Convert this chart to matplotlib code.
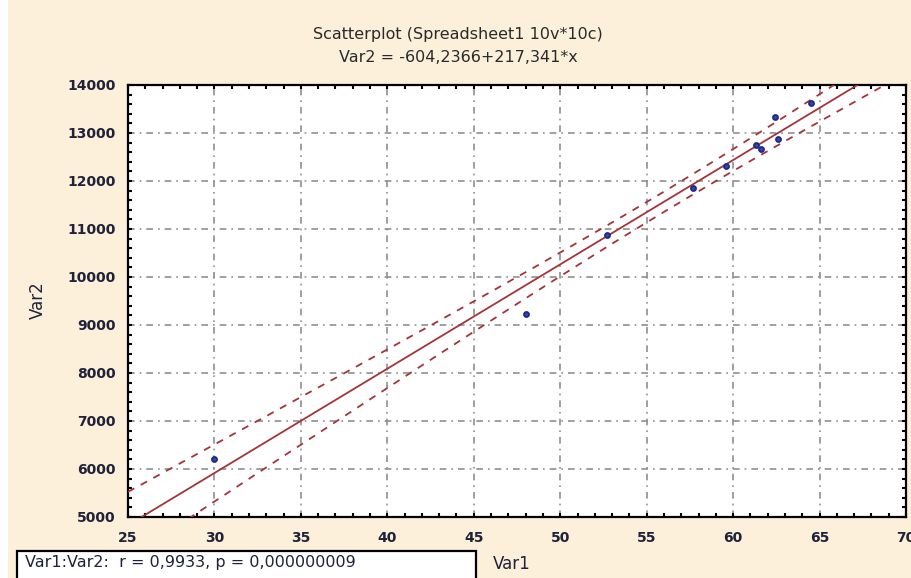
import matplotlib
matplotlib.use("Agg")
import matplotlib.pyplot as plt
import numpy as np
from matplotlib.patches import Rectangle
from matplotlib.ticker import MultipleLocator

var1 = [30.0, 48.0, 52.7, 57.7, 59.6, 61.3, 61.6, 62.4, 62.6, 64.5]
var2 = [6200, 9220, 10880, 11860, 12320, 12760, 12670, 13330, 12870, 13620]

intercept = -604.2366
slope = 217.341
t_crit = 2.306   # t(0.975, df=8)

x_ticks = [25, 30, 35, 40, 45, 50, 55, 60, 65, 70]
y_ticks = [5000, 6000, 7000, 8000, 9000, 10000, 11000, 12000, 13000, 14000]

title1 = "Scatterplot (Spreadsheet1 10v*10c)"
title2 = "Var2 = -604,2366+217,341*x"
stats_text = "Var1:Var2:  r = 0,9933, p = 0,000000009"

# regression line + 95% confidence bands
x = np.array(var1)
y = np.array(var2)
n = len(x)
resid = y - (intercept + slope * x)
s = np.sqrt(np.sum(resid ** 2) / (n - 2))
sxx = np.sum((x - x.mean()) ** 2)
xx = np.linspace(x_ticks[0], x_ticks[-1], 300)
fit = intercept + slope * xx
half = t_crit * s * np.sqrt(1 / n + (xx - x.mean()) ** 2 / sxx)

W, H = 912, 578
fig = plt.figure(figsize=(W / 100, H / 100), dpi=100)
fig.patch.set_facecolor("#fcf0da")
fig.patches.append(Rectangle((0, 0), 8 / W, 1, transform=fig.transFigure,
                             facecolor="white", edgecolor="none", zorder=0))

ax = fig.add_axes([128 / W, 1 - 517 / H, (906 - 128) / W, (517 - 85) / H])
ax.set_facecolor("white")

red = "#a5333a"
ax.plot(xx, fit, color=red, lw=1.3, zorder=3)
ax.plot(xx, fit + half, color=red, lw=1.3, ls=(0, (4, 4)), zorder=3)
ax.plot(xx, fit - half, color=red, lw=1.3, ls=(0, (4, 4)), zorder=3)
ax.plot(var1, var2, "o", ms=3.5, mfc="#3a4aa8", mec="#1c2a8c", mew=1.4, zorder=4)

ax.set_xlim(x_ticks[0], x_ticks[-1])
ax.set_ylim(y_ticks[0], y_ticks[-1])
ax.set_xticks(x_ticks)
ax.set_yticks(y_ticks)
ax.xaxis.set_minor_locator(MultipleLocator(1))
ax.yaxis.set_minor_locator(MultipleLocator(200))
ax.tick_params(which="both", direction="in", top=True, right=True,
               length=3, width=1.5, color="black")
ax.tick_params(axis="both", which="major", labelsize=10, labelcolor="#20223a")
ax.tick_params(axis="x", pad=10)
ax.tick_params(axis="y", pad=9)
for lab in ax.get_xticklabels() + ax.get_yticklabels():
    lab.set_fontweight("bold")
ax.grid(True, which="major", color="#8f8f8f", lw=1.2, ls=(0, (4, 3, 1, 3)))
for sp in ax.spines.values():
    sp.set_linewidth(1.6)
    sp.set_color("black")

fig.text(458 / W, 1 - 35 / H, title1, ha="center", va="center",
         fontsize=11.5, color="#2a2a2a")
fig.text(458 / W, 1 - 57 / H, title2, ha="center", va="center",
         fontsize=11.5, color="#2a2a2a")
fig.text(38 / W, 1 - 300 / H, "Var2", rotation=90, ha="center", va="center",
         fontsize=12, color="#20223a")
fig.text(493 / W, 1 - 564 / H, "Var1", ha="left", va="center",
         fontsize=12, color="#20223a")

fig.patches.append(Rectangle((17 / W, -0.05), (476 - 17) / W, 0.05 + (578 - 551) / H,
                             transform=fig.transFigure, facecolor="white",
                             edgecolor="black", lw=1.6))
fig.text(25 / W, 1 - 563 / H, stats_text, ha="left", va="center",
         fontsize=11.5, color="#20223a")

fig.savefig("out.png", dpi=100, facecolor=fig.get_facecolor())
